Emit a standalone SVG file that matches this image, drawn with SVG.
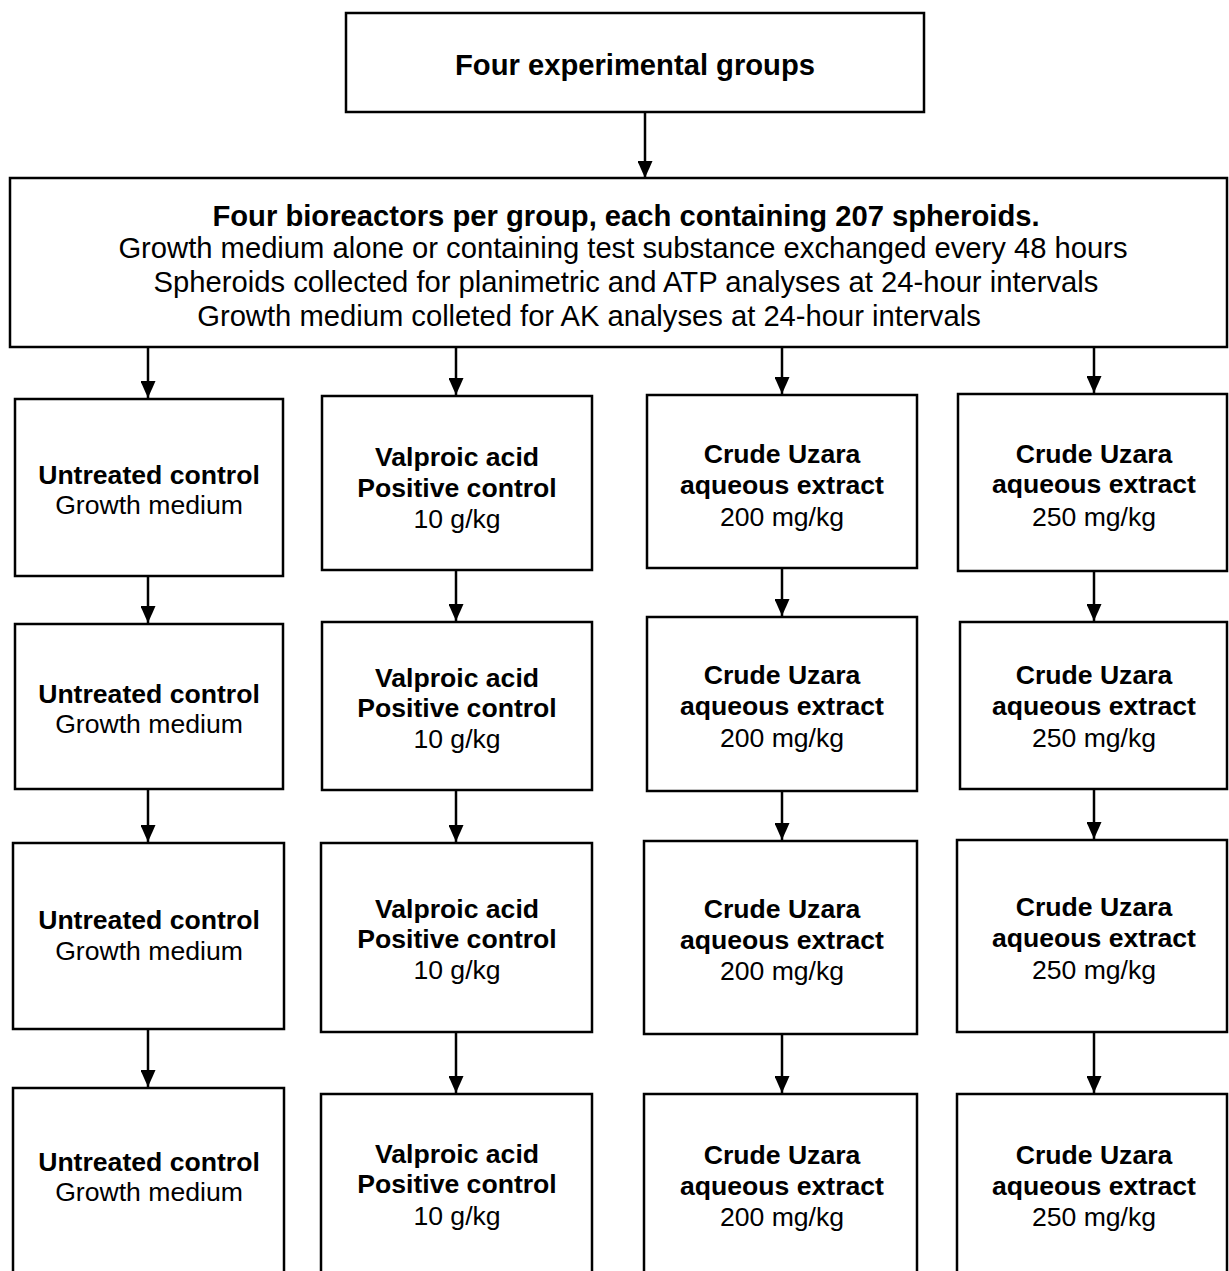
<svg xmlns="http://www.w3.org/2000/svg" width="1229" height="1271" viewBox="0 0 1229 1271">
<style>
.box{fill:#fff;stroke:#000;stroke-width:2.5}
.t{font-family:"Liberation Sans",Arial,sans-serif;font-size:26.6px;text-anchor:middle;fill:#000}
.h{font-size:29.2px}
.b{font-weight:bold}
.c{stroke:#000;stroke-width:2.5;fill:none;marker-end:url(#ah)}
</style>
<defs>
<marker id="ah" markerUnits="userSpaceOnUse" markerWidth="17" markerHeight="15" refX="17" refY="7.5" orient="auto"><path d="M0,0 L17,7.5 L0,15 z" fill="#000"/></marker>
</defs>
<rect width="1229" height="1271" fill="#fff"/>
<g id="connectors">
<line class="c" x1="645" y1="112" x2="645" y2="178"/>
<line class="c" x1="148" y1="347" x2="148" y2="398"/>
<line class="c" x1="456" y1="347" x2="456" y2="395"/>
<line class="c" x1="782" y1="347" x2="782" y2="394"/>
<line class="c" x1="1094" y1="347" x2="1094" y2="393"/>
<line class="c" x1="148" y1="576" x2="148" y2="623"/>
<line class="c" x1="456" y1="570" x2="456" y2="621"/>
<line class="c" x1="782" y1="568" x2="782" y2="616"/>
<line class="c" x1="1094" y1="571" x2="1094" y2="621"/>
<line class="c" x1="148" y1="789" x2="148" y2="842"/>
<line class="c" x1="456" y1="790" x2="456" y2="842"/>
<line class="c" x1="782" y1="791" x2="782" y2="840"/>
<line class="c" x1="1094" y1="789" x2="1094" y2="839"/>
<line class="c" x1="148" y1="1029" x2="148" y2="1087"/>
<line class="c" x1="456" y1="1032" x2="456" y2="1093"/>
<line class="c" x1="782" y1="1034" x2="782" y2="1093"/>
<line class="c" x1="1094" y1="1032" x2="1094" y2="1093"/>
</g>
<g id="n0"><rect class="box" x="346" y="13" width="578" height="99"/><text class="t h b" x="635" y="75">Four experimental groups</text></g>
<g id="n1"><rect class="box" x="10" y="178" width="1217" height="169"/>
<text class="t h b" x="626" y="226">Four bioreactors per group, each containing 207 spheroids.</text>
<text class="t h" x="623" y="258">Growth medium alone or containing test substance exchanged every 48 hours</text>
<text class="t h" x="626" y="292">Spheroids collected for planimetric and ATP analyses at 24-hour intervals</text>
<text class="t h" x="589" y="326">Growth medium colleted for AK analyses at 24-hour intervals</text></g>

<g id="r1c1"><rect class="box" x="15" y="399" width="268" height="177"/><text class="t b" x="149" y="484">Untreated control</text><text class="t" x="149" y="514">Growth medium</text></g>
<g id="r1c2"><rect class="box" x="322" y="396" width="270" height="174"/><text class="t b" x="457" y="466">Valproic acid</text><text class="t b" x="457" y="497">Positive control</text><text class="t" x="457" y="528">10 g/kg</text></g>
<g id="r1c3"><rect class="box" x="647" y="395" width="270" height="173"/><text class="t b" x="782" y="463">Crude Uzara</text><text class="t b" x="782" y="494">aqueous extract</text><text class="t" x="782" y="526">200 mg/kg</text></g>
<g id="r1c4"><rect class="box" x="958" y="394" width="269" height="177"/><text class="t b" x="1094" y="463">Crude Uzara</text><text class="t b" x="1094" y="493">aqueous extract</text><text class="t" x="1094" y="526">250 mg/kg</text></g>

<g id="r2c1"><rect class="box" x="15" y="624" width="268" height="165"/><text class="t b" x="149" y="703">Untreated control</text><text class="t" x="149" y="733">Growth medium</text></g>
<g id="r2c2"><rect class="box" x="322" y="622" width="270" height="168"/><text class="t b" x="457" y="687">Valproic acid</text><text class="t b" x="457" y="717">Positive control</text><text class="t" x="457" y="748">10 g/kg</text></g>
<g id="r2c3"><rect class="box" x="647" y="617" width="270" height="174"/><text class="t b" x="782" y="684">Crude Uzara</text><text class="t b" x="782" y="715">aqueous extract</text><text class="t" x="782" y="747">200 mg/kg</text></g>
<g id="r2c4"><rect class="box" x="960" y="622" width="267" height="167"/><text class="t b" x="1094" y="684">Crude Uzara</text><text class="t b" x="1094" y="715">aqueous extract</text><text class="t" x="1094" y="747">250 mg/kg</text></g>

<g id="r3c1"><rect class="box" x="13" y="843" width="271" height="186"/><text class="t b" x="149" y="929">Untreated control</text><text class="t" x="149" y="960">Growth medium</text></g>
<g id="r3c2"><rect class="box" x="321" y="843" width="271" height="189"/><text class="t b" x="457" y="918">Valproic acid</text><text class="t b" x="457" y="948">Positive control</text><text class="t" x="457" y="979">10 g/kg</text></g>
<g id="r3c3"><rect class="box" x="644" y="841" width="273" height="193"/><text class="t b" x="782" y="918">Crude Uzara</text><text class="t b" x="782" y="949">aqueous extract</text><text class="t" x="782" y="980">200 mg/kg</text></g>
<g id="r3c4"><rect class="box" x="957" y="840" width="270" height="192"/><text class="t b" x="1094" y="916">Crude Uzara</text><text class="t b" x="1094" y="947">aqueous extract</text><text class="t" x="1094" y="979">250 mg/kg</text></g>

<g id="r4c1"><rect class="box" x="13" y="1088" width="271" height="200"/><text class="t b" x="149" y="1171">Untreated control</text><text class="t" x="149" y="1201">Growth medium</text></g>
<g id="r4c2"><rect class="box" x="321" y="1094" width="271" height="200"/><text class="t b" x="457" y="1163">Valproic acid</text><text class="t b" x="457" y="1193">Positive control</text><text class="t" x="457" y="1225">10 g/kg</text></g>
<g id="r4c3"><rect class="box" x="644" y="1094" width="273" height="200"/><text class="t b" x="782" y="1164">Crude Uzara</text><text class="t b" x="782" y="1195">aqueous extract</text><text class="t" x="782" y="1226">200 mg/kg</text></g>
<g id="r4c4"><rect class="box" x="957" y="1094" width="270" height="200"/><text class="t b" x="1094" y="1164">Crude Uzara</text><text class="t b" x="1094" y="1195">aqueous extract</text><text class="t" x="1094" y="1226">250 mg/kg</text></g>
</svg>
